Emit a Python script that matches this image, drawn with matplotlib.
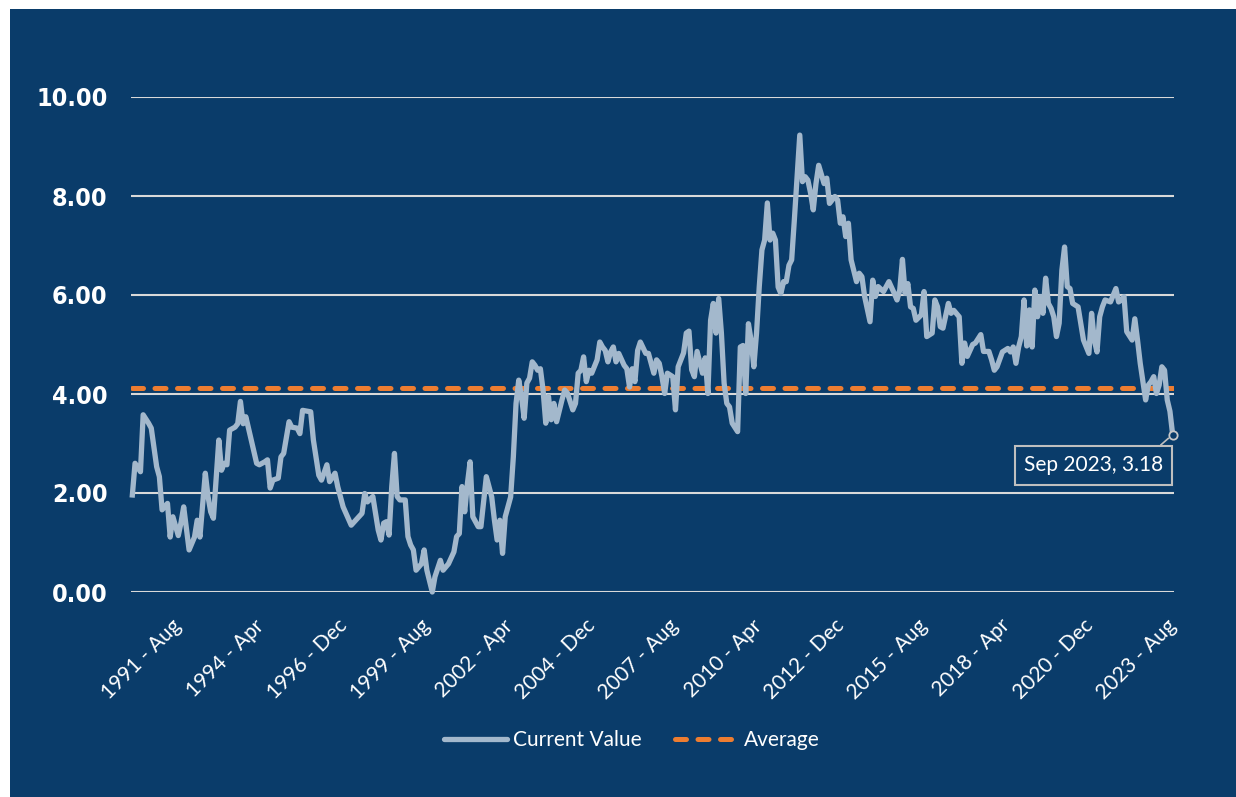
import matplotlib
matplotlib.use("Agg")
import matplotlib.pyplot as plt
from matplotlib.patches import Rectangle
from matplotlib.lines import Line2D
import numpy as np
import pandas as pd

# monthly series, months counted from Aug 1991
start = "1991-08-01"
month_offset = [
    0, 1, 3, 4, 6, 7, 9, 10, 11, 13, 14, 15, 17, 18, 19, 21, 23, 24, 25, 27,
    28, 29, 30, 32, 33, 34, 35, 36, 38, 39, 40, 41, 42, 44, 46, 47, 49, 50, 51, 52,
    54, 55, 56, 58, 59, 61, 62, 63, 66, 67, 69, 70, 72, 73, 75, 76, 78, 81, 85, 86,
    87, 89, 91, 92, 93, 94, 95, 96, 97, 98, 99, 101, 102, 103, 104, 105, 107, 108, 109, 111,
    112, 114, 115, 117, 119, 120, 121, 122, 123, 124, 125, 126, 128, 129, 131, 133, 134, 135, 136, 137,
    138, 140, 141, 142, 143, 144, 145, 146, 147, 148, 149, 150, 151, 152, 153, 154, 155, 156, 157, 159,
    160, 161, 163, 164, 165, 166, 167, 168, 169, 170, 172, 173, 174, 175, 176, 177, 178, 179, 180, 182,
    183, 184, 185, 186, 187, 188, 190, 191, 193, 194, 195, 196, 197, 198, 200, 201, 202, 204, 205, 206,
    207, 208, 209, 211, 212, 213, 214, 215, 216, 217, 218, 219, 220, 221, 222, 224, 225, 226, 227, 228,
    229, 230, 231, 232, 233, 234, 235, 236, 237, 238, 239, 240, 241, 242, 243, 244, 245, 246, 247, 248,
    249, 250, 251, 252, 253, 254, 256, 257, 258, 260, 261, 262, 263, 264, 265, 266, 268, 269, 270, 271,
    273, 274, 275, 276, 278, 280, 282, 283, 284, 285, 286, 287, 288, 289, 290, 292, 293, 294, 296, 297,
    298, 299, 300, 302, 303, 304, 306, 307, 308, 309, 311, 312, 314, 315, 317, 318, 319, 320, 322, 324,
    325, 326, 327, 328, 329, 330, 331, 332, 333, 334, 335, 336, 337, 338, 339, 340, 341, 342, 343, 344,
    345, 346, 347, 348, 350, 351, 352, 354, 355, 356, 357, 358, 359, 360, 362, 364, 365, 366, 367, 368,
    370, 371, 372, 373, 375, 376, 377, 378, 379, 380, 381, 382, 383, 384, 385,
]
current_value = [
    1.96, 2.60, 2.43, 3.58, 3.41, 3.31, 2.53, 2.33, 1.66, 1.79, 1.11, 1.52, 1.14, 1.40, 1.72, 0.85, 1.11, 1.45, 1.11, 2.40,
    1.93, 1.62, 1.49, 3.07, 2.46, 2.60, 2.57, 3.27, 3.33, 3.40, 3.85, 3.40, 3.54, 3.07, 2.60, 2.57, 2.63, 2.67, 2.10, 2.26,
    2.30, 2.73, 2.80, 3.44, 3.33, 3.31, 3.20, 3.67, 3.64, 3.07, 2.36, 2.26, 2.57, 2.23, 2.40, 2.13, 1.72, 1.35, 1.59, 1.99,
    1.82, 1.93, 1.25, 1.05, 1.39, 1.42, 1.15, 2.13, 2.80, 1.93, 1.86, 1.86, 1.12, 0.95, 0.85, 0.44, 0.57, 0.85, 0.44, 0.00,
    0.31, 0.64, 0.44, 0.57, 0.81, 1.12, 1.18, 2.13, 1.62, 2.19, 2.63, 1.52, 1.32, 1.32, 2.33, 1.92, 1.45, 1.05, 1.45, 0.78,
    1.52, 1.92, 2.73, 3.81, 4.28, 3.95, 3.51, 4.22, 4.32, 4.65, 4.58, 4.48, 4.51, 4.08, 3.41, 3.95, 3.48, 3.81, 3.44, 3.88,
    4.08, 4.02, 3.68, 3.81, 4.42, 4.48, 4.75, 4.25, 4.48, 4.42, 4.69, 5.05, 4.95, 4.88, 4.65, 4.85, 4.95, 4.65, 4.82, 4.58,
    4.51, 4.14, 4.51, 4.25, 4.88, 5.05, 4.82, 4.82, 4.42, 4.69, 4.62, 4.35, 4.01, 4.42, 4.35, 3.68, 4.55, 4.83, 5.23, 5.27,
    4.49, 4.35, 4.86, 4.42, 4.73, 4.01, 5.49, 5.83, 5.23, 5.93, 5.23, 4.22, 3.81, 3.74, 3.41, 3.24, 4.95, 4.98, 4.01, 5.42,
    5.08, 4.55, 5.23, 6.16, 6.91, 7.11, 7.86, 7.11, 7.25, 7.11, 6.16, 6.03, 6.27, 6.27, 6.60, 6.71, 7.52, 8.39, 9.23, 8.29,
    8.39, 8.32, 8.06, 7.72, 8.25, 8.62, 8.25, 8.36, 7.85, 7.99, 7.92, 7.45, 7.58, 7.18, 7.45, 6.71, 6.27, 6.44, 6.37, 5.97,
    5.46, 6.30, 5.97, 6.17, 6.07, 6.27, 6.03, 5.90, 6.10, 6.72, 6.03, 6.23, 5.76, 5.73, 5.49, 5.60, 6.07, 5.16, 5.23, 5.90,
    5.76, 5.36, 5.33, 5.83, 5.63, 5.69, 5.56, 4.62, 5.03, 4.76, 5.00, 5.03, 5.20, 4.86, 4.86, 4.69, 4.48, 4.55, 4.85, 4.92,
    4.85, 4.95, 4.62, 4.95, 5.16, 5.90, 4.97, 5.70, 4.95, 6.10, 5.56, 5.97, 5.63, 6.34, 5.83, 5.73, 5.56, 5.16, 5.43, 6.50,
    6.97, 6.17, 6.13, 5.83, 5.76, 5.43, 5.09, 4.82, 5.63, 5.09, 4.85, 5.56, 5.76, 5.90, 5.86, 6.13, 5.86, 5.90, 5.97, 5.26,
    5.09, 5.52, 5.09, 4.62, 3.88, 4.18, 4.25, 4.35, 4.01, 4.18, 4.55, 4.48, 3.88, 3.65, 3.18,
]
average = 4.12

tick_labels = [
    "1991 - Aug", "1994 - Apr", "1996 - Dec", "1999 - Aug", "2002 - Apr",
    "2004 - Dec", "2007 - Aug", "2010 - Apr", "2012 - Dec", "2015 - Aug",
    "2018 - Apr", "2020 - Dec", "2023 - Aug",
]

BG = "#0a3c6a"
LINE = "#a3b8cc"
ORANGE = "#ed7d31"
GRID = "#d9d9d9"
TXT = ["Lato", "DejaVu Sans"]
DASH = (0, (2.2, 2.3))

x = np.array(month_offset)
y = np.array(current_value)

fig = plt.figure(figsize=(12.36, 7.97), dpi=100)
fig.patch.set_facecolor("white")
# blue panel behind everything, leaving a thin white margin top and left
fig.patches.append(Rectangle((10 / 1236, 0), 1, 1 - 9 / 797, transform=fig.transFigure,
                             facecolor=BG, edgecolor="none", zorder=-10))

ax = fig.add_axes([131 / 1236, 1 - 592 / 797, 1043 / 1236, 495 / 797])
ax.set_facecolor(BG)
for s in ax.spines.values():
    s.set_visible(False)

ax.set_ylim(0, 10)
ax.set_xlim(-0.5, x[-1] + 0.5)
ax.set_yticks(np.arange(0, 11, 2))
ax.set_yticklabels([f"{v:.2f}" for v in np.arange(0, 11, 2)],
                   family=["DejaVu Sans"], fontstretch="condensed", fontweight="bold",
                   fontsize=18, color="white")
ax.yaxis.grid(True, color=GRID, linewidth=1.5)
ax.set_axisbelow(True)
ax.tick_params(axis="y", length=0, pad=17)

# the rotated labels are spread evenly up to the right end of the axis
tick_pos = np.linspace(17, x[-1], len(tick_labels))
ax.set_xticks(tick_pos)
ax.set_xticklabels(tick_labels, rotation=45, ha="right", va="center",
                   rotation_mode="anchor", family=TXT, fontsize=15, color="white")
ax.tick_params(axis="x", length=0, pad=22)

ax.plot(x, np.full(len(x), average), color=ORANGE, linewidth=3.6,
        linestyle=DASH, dash_capstyle="round", zorder=3)
ax.plot(x, y, color=LINE, linewidth=3.8, solid_joinstyle="round", zorder=4, clip_on=False)
ax.plot(x[-1], y[-1], marker="o", markersize=6, markerfacecolor=BG,
        markeredgecolor="#c8c8c8", markeredgewidth=1.3, zorder=5, clip_on=False)

last_date = pd.Timestamp(start) + pd.DateOffset(months=int(x[-1]))
ax.annotate(f"{last_date:%b %Y}, {y[-1]:.2f}", xy=(x[-1], y[-1]),
            xytext=(-57, -22), textcoords="offset points", ha="center", va="center",
            family=TXT, fontsize=15, color="white",
            bbox=dict(boxstyle="square,pad=0.45", facecolor=BG, edgecolor="#bfbfbf", linewidth=1.5),
            arrowprops=dict(arrowstyle="-", color="#bfbfbf", linewidth=1.2,
                            relpos=(0.9, 1.0), shrinkA=0, shrinkB=4))

handles = [
    Line2D([], [], color=LINE, linewidth=3.8, solid_capstyle="round"),
    Line2D([], [], color=ORANGE, linewidth=3.6, linestyle=DASH, dash_capstyle="round"),
]
leg = fig.legend(handles, ["Current Value", "Average"], loc="center",
                 bbox_to_anchor=(632 / 1236, 1 - 740 / 797), ncol=2, frameon=False,
                 prop={"family": TXT, "size": 15}, handlelength=3.0,
                 handletextpad=0.3, columnspacing=1.6)
for t in leg.get_texts():
    t.set_color("white")

fig.savefig("out.png", dpi=100, facecolor=fig.get_facecolor())
